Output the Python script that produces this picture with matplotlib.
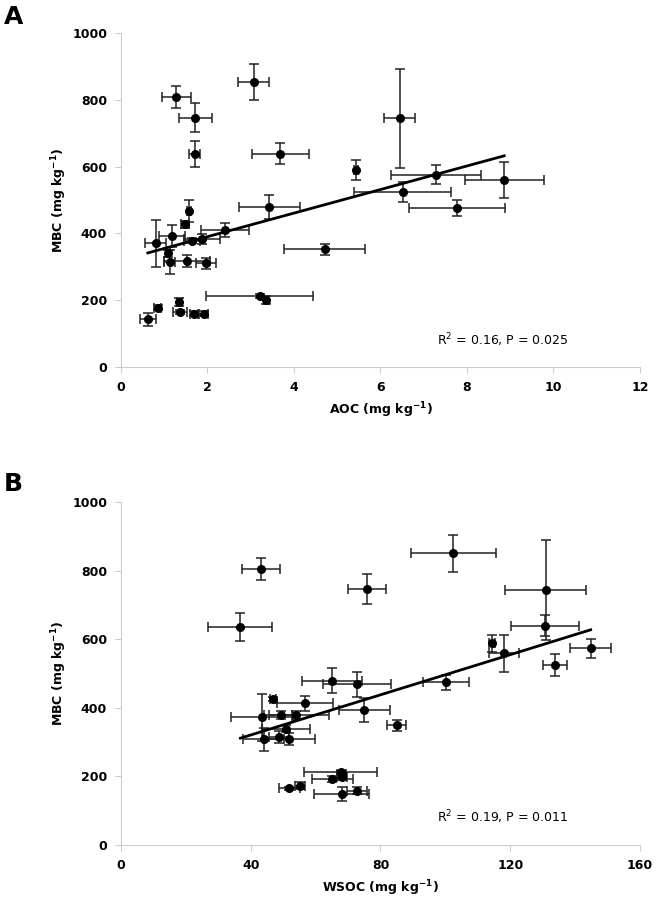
import numpy as np
import matplotlib.pyplot as plt

# Panel A: AOC vs MBC
aoc = [1.28, 3.07, 1.72, 1.70, 3.68, 5.44, 3.43, 1.58, 1.48, 2.40, 1.17, 0.80,
       1.64, 1.87, 1.09, 1.13, 1.53, 1.97, 4.71, 3.21, 3.35, 1.35, 0.85, 0.62,
       1.37, 1.68, 1.91, 6.44, 7.29, 6.51, 8.86, 7.77]
aoc_err = [0.33, 0.36, 0.39, 0.12, 0.66, 0.05, 0.70, 0.05, 0.10, 0.56, 0.30, 0.25,
           0.18, 0.42, 0.05, 0.13, 0.53, 0.23, 0.94, 1.24, 0.05, 0.05, 0.08, 0.18,
           0.16, 0.09, 0.11, 0.35, 1.04, 1.13, 0.91, 1.12]
mbc_a = [808, 853, 747, 637, 639, 590, 479, 468, 427, 410, 392, 370,
         378, 382, 340, 315, 317, 310, 352, 213, 200, 195, 178, 143,
         165, 160, 160, 745, 576, 524, 560, 476]
mbc_a_err = [32, 53, 44, 39, 31, 30, 37, 33, 10, 22, 32, 71,
             8, 15, 10, 35, 18, 17, 17, 5, 12, 12, 8, 20,
             5, 8, 8, 148, 29, 31, 53, 24]

# Panel B: WSOC vs MBC
wsoc = [43.2, 75.9, 36.8, 65.0, 72.8, 46.9, 56.8, 43.5, 49.2, 54.0, 51.0, 75.0,
        44.0, 48.7, 51.9, 67.7, 68.0, 68.2, 65.2, 51.9, 55.2, 72.7, 68.0,
        102.5, 131.0, 130.6, 114.3, 118.2, 144.8, 133.7, 100.2, 85.0]
wsoc_err = [5.75, 5.8, 9.9, 9.2, 10.5, 1.0, 8.6, 9.5, 3.5, 10.0, 7.4, 7.8,
            6.3, 3.0, 8.0, 11.3, 1.5, 1.5, 6.4, 3.2, 1.5, 3.0, 8.6,
            13.2, 12.5, 10.5, 1.0, 4.6, 6.4, 3.65, 7.2, 2.85]
mbc_b = [805, 747, 636, 480, 469, 426, 413, 373, 380, 378, 340, 393,
         308, 316, 309, 212, 206, 199, 193, 165, 173, 158, 148,
         851, 744, 640, 589, 559, 574, 524, 475, 350]
mbc_b_err = [33, 44, 40, 37, 36, 5, 21, 68, 11, 12, 10, 35,
             34, 17, 17, 5, 8, 8, 8, 5, 10, 10, 20,
             54, 146, 31, 25, 53, 27, 32, 22, 16]

panels = [
    ('A', aoc, aoc_err, mbc_a, mbc_a_err, 'AOC', [0, 12], np.arange(0, 13, 2),
     'R$^2$ = 0.16, P = 0.025'),
    ('B', wsoc, wsoc_err, mbc_b, mbc_b_err, 'WSOC', [0, 160], np.arange(0, 161, 40),
     'R$^2$ = 0.19, P = 0.011'),
]

fig = plt.figure(figsize=(6.7, 8.98), dpi=100)
boxes = [[0.1806, 0.5913, 0.7746, 0.3719], [0.1806, 0.0590, 0.7746, 0.3816]]
letter_y = [0.981, 0.461]

for box, ly, (letter, x, xe, y, ye, xname, xlim, xticks, stat) in zip(boxes, letter_y, panels):
    ax = fig.add_axes(box)
    x = np.array(x)
    y = np.array(y)
    ax.errorbar(x, y, xerr=xe, yerr=ye, fmt='o', color='black', ecolor='#222222',
                markersize=5.5, elinewidth=1.1, capsize=3.5, capthick=1.1)
    k, b = np.polyfit(x, y, 1)
    xs = np.array([x.min(), x.max()])
    ax.plot(xs, k * xs + b, color='black', linewidth=2)
    ax.set_xlim(xlim)
    ax.set_ylim(0, 1000)
    ax.set_xticks(xticks)
    ax.set_yticks(np.arange(0, 1001, 200))
    for s in ['top', 'right']:
        ax.spines[s].set_visible(False)
    for s in ['left', 'bottom']:
        ax.spines[s].set_color('#cccccc')
    ax.tick_params(direction='out', length=4, color='#cccccc', labelsize=9, pad=6)
    for t in ax.get_xticklabels() + ax.get_yticklabels():
        t.set_fontweight('bold')
    ax.set_xlabel(xname + ' (mg kg$^{\\mathbf{-1}}$)', fontsize=9, fontweight='bold', labelpad=5)
    ax.set_ylabel('MBC (mg kg$^{\\mathbf{-1}}$)', fontsize=9, fontweight='bold', labelpad=2)
    ax.text(0.735, 0.08, stat, transform=ax.transAxes, fontsize=9, ha='center', va='center')
    fig.text(0.006, ly, letter, fontsize=18, fontweight='bold', ha='left', va='center')

fig.savefig('out.png', dpi=100)
